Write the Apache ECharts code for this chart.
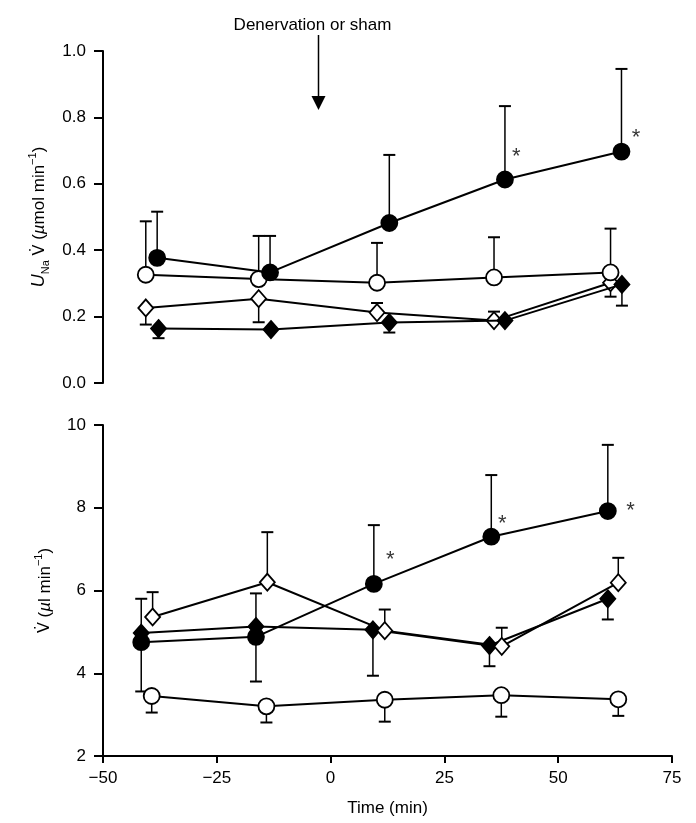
<!DOCTYPE html>
<html>
<head>
<meta charset="utf-8">
<script src="https://cdn.jsdelivr.net/npm/echarts@6/dist/echarts.min.js"></script>
<style>html,body{margin:0;padding:0;background:#fff}#c{width:696px;height:823px}</style>
</head>
<body>
<div id="c"></div>
<script>
// ---------- data (time in min, values) ----------
// Top panel: UNa V (µmol/min)
const topFilledCircleT = [-38.1, -13.3, 12.9, 38.3, 63.9];
const topFilledCircleV = [0.377, 0.333, 0.482, 0.613, 0.697];
const topFilledCircleErr = [0.516, 0.443, 0.687, 0.834, 0.946];

const topOpenCircleT = [-40.6, -15.8, 10.2, 35.9, 61.5];
const topOpenCircleV = [0.326, 0.313, 0.302, 0.318, 0.333];
const topOpenCircleErr = [0.487, 0.443, 0.422, 0.439, 0.465];

const topOpenDiamondT = [-40.6, -15.8, 10.2, 35.9, 61.5];
const topOpenDiamondV = [0.226, 0.254, 0.212, 0.188, 0.302];
const topOpenDiamondErr = [0.176, 0.183, 0.241, 0.215, 0.260];

const topFilledDiamondT = [-37.8, -13.1, 12.9, 38.3, 64.0];
const topFilledDiamondV = [0.164, 0.161, 0.182, 0.188, 0.297];
const topFilledDiamondErr = [0.135, null, 0.152, null, 0.233];

const topStars = [[40.8, 0.697], [67.1, 0.754]];

// Bottom panel: V (µl/min)
const botFilledCircleT = [-41.6, -16.4, 9.5, 35.3, 60.9];
const botFilledCircleV = [4.75, 4.88, 6.16, 7.30, 7.92];
const botFilledCircleErr = [3.56, 3.80, 7.58, 8.79, 9.52];

const botOpenCircleT = [-39.3, -14.1, 11.9, 37.5, 63.2];
const botOpenCircleV = [3.45, 3.20, 3.36, 3.47, 3.37];
const botOpenCircleErr = [3.05, 2.81, 2.83, 2.95, 2.97];

const botOpenDiamondT = [-39.1, -13.9, 11.9, 37.6, 63.2];
const botOpenDiamondV = [5.36, 6.20, 5.03, 4.65, 6.19];
const botOpenDiamondErr = [5.96, 7.41, 5.54, 5.10, 6.79];

const botFilledDiamondT = [-41.6, -16.4, 9.3, 34.9, 60.9];
const botFilledDiamondV = [4.97, 5.13, 5.05, 4.67, 5.80];
const botFilledDiamondErr = [5.80, 5.93, 3.94, 4.17, 5.30];

const botStars = [[13.1, 6.85], [37.7, 7.72], [65.9, 8.04]];

const xTicks = [-50, -25, 0, 25, 50, 75];
const topYTicks = [0.0, 0.2, 0.4, 0.6, 0.8, 1.0];
const botYTicks = [2, 4, 6, 8, 10];
const eventTime = -2.7;
const eventTipValue = 0.822;
const eventLabel = 'Denervation or sham';

// ---------- build ----------
const FONT = '"Liberation Sans", Arial, Helvetica, sans-serif';
const zip = (t, v) => t.map((x, i) => [x, v[i]]);
const zipErr = (t, v, e) => t.map((x, i) => [x, v[i], e[i]]).filter(d => d[2] != null);
const CIRC = 16, DIAM = [15, 17];

function lineSeries(idx, t, v, symbol, filled, size, z) {
  return {
    type: 'line', xAxisIndex: idx, yAxisIndex: idx,
    data: zip(t, v), symbol: symbol, symbolSize: size, showSymbol: true,
    lineStyle: { color: '#000', width: 2 },
    itemStyle: { color: filled ? '#000' : '#fff', borderColor: '#000', borderWidth: 1.8, opacity: 1 },
    emphasis: { disabled: true }, animation: false, z: z, clip: false
  };
}
function errSeries(idx, t, v, e) {
  return {
    type: 'custom', xAxisIndex: idx, yAxisIndex: idx,
    data: zipErr(t, v, e), encode: { x: 0, y: 1 }, clip: false, z: 1,
    renderItem: function (params, api) {
      const p = api.coord([api.value(0), api.value(1)]);
      const q = api.coord([api.value(0), api.value(2)]);
      return {
        type: 'group', children: [
          { type: 'line', shape: { x1: p[0], y1: p[1], x2: q[0], y2: q[1] }, style: { stroke: '#000', lineWidth: 1.5 } },
          { type: 'line', shape: { x1: q[0] - 6, y1: q[1], x2: q[0] + 6, y2: q[1] }, style: { stroke: '#000', lineWidth: 2 } }
        ]
      };
    },
    animation: false, silent: true
  };
}
function starSeries(idx, data) {
  return {
    type: 'scatter', xAxisIndex: idx, yAxisIndex: idx, data: data, symbol: 'circle', symbolSize: 2,
    itemStyle: { color: 'rgba(0,0,0,0)' },
    label: { show: true, position: 'inside', formatter: '*', color: '#000', fontSize: 22, fontFamily: FONT, offset: [0, 5] },
    emphasis: { disabled: true },
    silent: true, animation: false, z: 5
  };
}
const minus = v => String(v).replace('-', '\u2212');

function yAxis(idx, min, max, interval, name, nameRich, fmt) {
  return {
    type: 'value', gridIndex: idx, min: min, max: max, interval: interval,
    axisLine: { show: true, onZero: false, lineStyle: { color: '#000', width: 2 } },
    axisTick: { show: true, length: 9, lineStyle: { color: '#000', width: 2 } },
    axisLabel: { color: '#000', fontSize: 17, fontFamily: FONT, margin: 17, formatter: fmt },
    splitLine: { show: false },
    name: name, nameLocation: 'middle', nameRotate: 90, nameGap: 46,
    nameTextStyle: { color: '#000', fontSize: 17, fontFamily: FONT, rich: nameRich }
  };
}

const richCommon = {
  it: { fontStyle: 'italic', fontSize: 18, fontFamily: FONT, color: '#000', lineHeight: 24 },
  sub: { fontSize: 11, fontFamily: FONT, color: '#000', verticalAlign: 'bottom', lineHeight: 24 },
  sup: { fontSize: 11, fontFamily: FONT, color: '#000', verticalAlign: 'top', lineHeight: 24 },
  n: { fontSize: 17, fontFamily: FONT, color: '#000', lineHeight: 24 },
  vd: { fontSize: 16, fontFamily: '"DejaVu Sans", sans-serif', color: '#000', lineHeight: 24 },
  g: { fontSize: 17, fontFamily: FONT, color: '#000', fontStyle: 'italic', lineHeight: 24 }
};

const option = {
  backgroundColor: '#fff',
  animation: false,
  grid: [
    { left: 103, right: 24, top: 51, height: 332 },
    { left: 103, right: 24, top: 425, height: 331 }
  ],
  xAxis: [
    { type: 'value', gridIndex: 0, min: -50, max: 75, interval: 25, show: false },
    {
      type: 'value', gridIndex: 1, min: -50, max: 75, interval: 25,
      axisLine: { show: true, onZero: false, lineStyle: { color: '#000', width: 2 } },
      axisTick: { show: true, length: 7, lineStyle: { color: '#000', width: 2 } },
      axisLabel: { color: '#000', fontSize: 17, fontFamily: FONT, margin: 14, formatter: v => minus(v) },
      splitLine: { show: false },
      name: 'Time (min)', nameLocation: 'middle', nameGap: 44,
      nameTextStyle: { color: '#000', fontSize: 17, fontFamily: FONT }
    }
  ],
  yAxis: [
    yAxis(0, 0, 1, 0.2, '{it|U}{sub|Na}{n| }{vd|V\u0307}{n| (}{g|\u00b5}{n|mol min}{sup|\u22121}{n|)}', richCommon, v => v.toFixed(1)),
    yAxis(1, 2, 10, 2, '{vd|V\u0307}{n| (}{g|\u00b5}{n|l min}{sup|\u22121}{n|)}', richCommon, v => String(v))
  ],
  series: [
    errSeries(0, topFilledCircleT, topFilledCircleV, topFilledCircleErr),
    errSeries(0, topOpenCircleT, topOpenCircleV, topOpenCircleErr),
    errSeries(0, topOpenDiamondT, topOpenDiamondV, topOpenDiamondErr),
    errSeries(0, topFilledDiamondT, topFilledDiamondV, topFilledDiamondErr),
    lineSeries(0, topOpenDiamondT, topOpenDiamondV, 'diamond', false, DIAM, 2),
    lineSeries(0, topFilledDiamondT, topFilledDiamondV, 'diamond', true, DIAM, 3),
    lineSeries(0, topOpenCircleT, topOpenCircleV, 'circle', false, CIRC, 3),
    lineSeries(0, topFilledCircleT, topFilledCircleV, 'circle', true, CIRC, 4),
    starSeries(0, topStars),

    errSeries(1, botFilledCircleT, botFilledCircleV, botFilledCircleErr),
    errSeries(1, botOpenCircleT, botOpenCircleV, botOpenCircleErr),
    errSeries(1, botOpenDiamondT, botOpenDiamondV, botOpenDiamondErr),
    errSeries(1, botFilledDiamondT, botFilledDiamondV, botFilledDiamondErr),
    lineSeries(1, botOpenCircleT, botOpenCircleV, 'circle', false, CIRC, 2),
    lineSeries(1, botFilledCircleT, botFilledCircleV, 'circle', true, CIRC, 3),
    lineSeries(1, botFilledDiamondT, botFilledDiamondV, 'diamond', true, DIAM, 3),
    lineSeries(1, botOpenDiamondT, botOpenDiamondV, 'diamond', false, DIAM, 4),
    starSeries(1, botStars)
  ]
};

const chart = echarts.init(document.getElementById('c'), null, { renderer: 'canvas' });
chart.setOption(option);

// Event annotation (arrow + label) placed through the axis scale
const tip = chart.convertToPixel({ xAxisIndex: 0, yAxisIndex: 0 }, [eventTime, eventTipValue]);
const ax = Math.round(tip[0]) + 0.5;
chart.setOption({
  graphic: [
    { type: 'text', x: ax - 6, y: 25, style: { text: eventLabel, fill: '#000', font: '17px ' + FONT, align: 'center', verticalAlign: 'middle' } },
    { type: 'line', shape: { x1: ax, y1: 35, x2: ax, y2: tip[1] - 12 }, style: { stroke: '#000', lineWidth: 1.5 } },
    { type: 'polygon', shape: { points: [[ax - 7, tip[1] - 14], [ax + 7, tip[1] - 14], [ax, tip[1]]] }, style: { fill: '#000' } }
  ]
});
</script>
</body>
</html>
